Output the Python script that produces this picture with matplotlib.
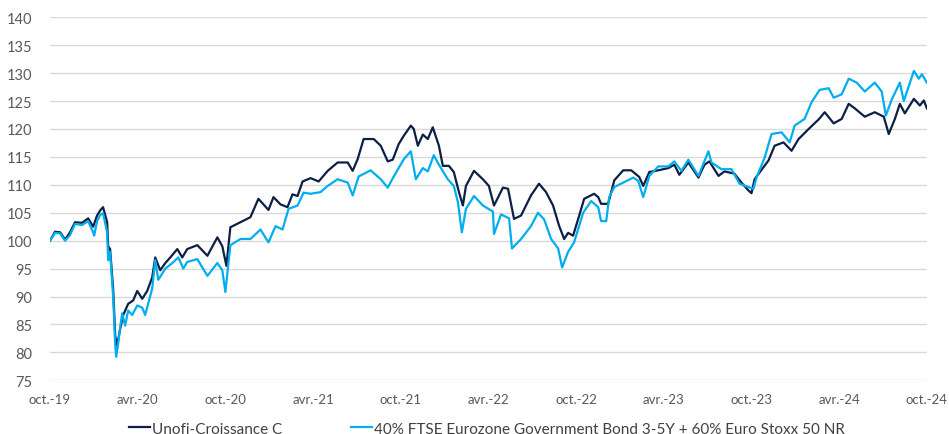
import matplotlib
matplotlib.use("Agg")
import matplotlib.pyplot as plt

# months since oct. 2019
fund_t = [0, 0.34, 0.69, 1.03, 1.37, 1.71, 2.19, 2.61, 2.95, 3.22, 3.43, 3.63, 3.91, 3.98,
          4.11, 4.32, 4.46, 4.59, 4.80, 5.01, 5.35, 5.69, 5.97, 6.31, 6.65, 6.99, 7.20, 7.54,
          7.89, 8.23, 8.71, 9.05, 9.39, 10.08, 10.77, 11.45, 11.79, 12.07, 12.34, 13.03, 13.71,
          14.26, 14.95, 15.29, 15.77, 16.25, 16.59, 16.94, 17.28, 17.83, 18.38, 19.00, 19.68,
          20.37, 20.71, 21.05, 21.46, 22.15, 22.63, 23.11, 23.45, 23.86, 24.21, 24.69, 24.89,
          25.17, 25.51, 25.85, 26.19, 26.61, 26.88, 27.29, 27.63, 27.98, 28.25, 28.46, 29.01,
          29.62, 30.03, 30.38, 30.99, 31.34, 31.75, 32.23, 32.91, 33.46, 33.94, 34.42, 34.83,
          35.18, 35.45, 35.79, 36.21, 36.55, 37.23, 37.51, 37.71, 38.19, 38.61, 39.22, 39.77,
          40.32, 40.59, 41.01, 41.62, 42.31, 42.72, 43.06, 43.68, 44.37, 44.78, 45.12, 45.74,
          46.15, 46.83, 47.31, 47.79, 48.00, 48.21, 48.69, 49.17, 49.58, 50.19, 50.74, 51.22,
          51.91, 52.59, 53.01, 53.62, 54.17, 54.65, 55.06, 55.75, 56.43, 57.05, 57.39, 57.81,
          58.15, 58.49, 59.11, 59.52, 59.79, 60.00]
fund_v = [100, 101.6, 101.5, 100.2, 101.5, 103.3, 103.2, 104, 102.5, 104.5, 105.4, 106, 103.3, 99,
          98.5, 91.4, 83, 81.2, 84.2, 86.7, 88.7, 89.3, 91, 89.6, 91, 93.4, 97, 94.7,
          96, 97, 98.5, 97, 98.5, 99.2, 97.3, 100.6, 99, 95.5, 102.4, 103.3, 104.2,
          107.5, 105.5, 107.8, 106.5, 106, 108.3, 108, 110.6, 111.2, 110.6, 112.5, 114,
          114, 112.5, 114.6, 118.2, 118.2, 117, 114.2, 114.5, 117.3, 118.8, 120.6, 120,
          117, 119, 118.2, 120.3, 117, 113.4, 113.4, 112.3, 108.7, 106.3, 109.8, 112.5,
          111, 109.8, 106.3, 109.5, 109.3, 103.9, 104.5, 108.1, 110.2, 108.7, 106.3, 102.7,
          100.3, 101.4, 100.9, 104.5, 107.5, 108.4, 107.8, 106.6, 106.6, 110.8, 112.6, 112.6,
          111.4, 109.8, 112.3, 112.6, 113, 113.6, 111.8, 114, 111.3, 113.6, 114.2, 111.6,
          112.4, 112, 110.4, 109, 108.5, 111, 112.7, 114.4, 117, 117.6, 116.1, 118.2,
          120, 121.7, 123, 121, 121.8, 124.5, 123.7, 122.2, 123, 122.2, 119.1, 121.8,
          124.5, 122.8, 125.4, 124.2, 125.1, 123.7]

bench_t = [0, 0.34, 0.69, 1.03, 1.37, 1.71, 2.19, 2.61, 2.95, 3.02, 3.22, 3.43, 3.63, 3.91,
           3.98, 4.11, 4.32, 4.46, 4.53, 4.66, 4.80, 4.94, 5.14, 5.35, 5.62, 5.97, 6.31, 6.51,
           6.99, 7.20, 7.41, 7.89, 8.37, 8.78, 9.12, 9.39, 10.08, 10.77, 11.45, 11.79, 12.00,
           12.34, 13.03, 13.71, 14.40, 14.95, 15.43, 15.91, 16.32, 16.94, 17.35, 17.83, 18.51,
           19.00, 19.68, 20.37, 20.71, 21.12, 21.94, 22.63, 23.11, 23.52, 24.21, 24.69, 25.03,
           25.51, 25.85, 26.26, 26.61, 27.22, 27.63, 27.91, 28.18, 28.46, 29.01, 29.62, 30.31,
           30.38, 30.86, 31.41, 31.61, 32.23, 32.91, 33.39, 33.81, 34.29, 34.77, 35.04, 35.45,
           35.86, 36.48, 37.03, 37.51, 37.71, 38.06, 38.26, 38.61, 39.22, 39.91, 40.25, 40.59,
           41.01, 41.62, 42.31, 42.72, 43.20, 43.68, 44.37, 45.05, 45.26, 45.94, 46.63, 47.18,
           47.79, 48.14, 48.34, 48.89, 49.37, 50.06, 50.61, 50.95, 51.63, 52.11, 52.66, 53.28,
           53.62, 54.17, 54.65, 55.20, 55.75, 56.43, 56.91, 57.19, 57.60, 58.15, 58.42, 59.11,
           59.45, 59.66, 60.00]
bench_v = [100, 101.4, 101.3, 100, 101, 103, 102.8, 103.5, 101.5, 100.9, 103.5, 104.6, 104.9, 101.5,
           96.5, 98, 90, 81.5, 79.2, 81.5, 84.5, 87, 84.8, 87.5, 86.7, 88.4, 88, 86.7,
           91.4, 96.5, 93, 95, 96, 97, 95, 96.2, 96.7, 93.7, 96, 94.7, 90.8,
           99.2, 100.3, 100.3, 102, 99.7, 102.6, 102, 105.7, 106.3, 108.6, 108.4, 108.7,
           109.8, 111, 110.4, 108.1, 111.5, 112.6, 111, 109.5, 111.5, 114.6, 116, 111,
           113, 112.4, 115.3, 113.6, 111, 109.8, 106.9, 101.5, 105.7, 108, 106.3, 105.2,
           101.2, 104.7, 104, 98.6, 100.3, 102.6, 105, 103.8, 100.3, 98.6, 95.2, 98,
           99.7, 105, 107.1, 106, 103.5, 103.5, 107.8, 109.6, 110.4, 111.3, 110.7, 107.8,
           111.6, 113.3, 113.3, 114.2, 112.5, 114.5, 111.6, 116, 114, 112.8, 112.8, 110.2,
           109.6, 109.3, 111.3, 114.8, 119.1, 119.4, 117.6, 120.6, 121.8, 124.8, 127, 127.3,
           125.6, 126.2, 129, 128.3, 126.7, 128.3, 126.7, 122.4, 125.3, 128.3, 125, 130.4,
           129, 129.8, 128.3]

tick_months = [0, 6, 12, 18, 24, 30, 36, 42, 48, 54, 60]
tick_labels = ["oct.-19", "avr.-20", "oct.-20", "avr.-21", "oct.-21", "avr.-22",
               "oct.-22", "avr.-23", "oct.-23", "avr.-24", "oct.-24"]
y_ticks = list(range(75, 141, 5))

plt.rcParams['font.family'] = ['Lato', 'DejaVu Sans']

fig = plt.figure(figsize=(9.49, 4.35), dpi=100)
ax = fig.add_axes([0.0527, 0.1234, 0.924, 0.8346])

ax.plot(fund_t, fund_v, color='#0c1f45', lw=1.6, label='Unofi-Croissance C')
ax.plot(bench_t, bench_v, color='#00aeef', lw=1.6, label='40% FTSE Eurozone Government Bond 3-5Y + 60% Euro Stoxx 50 NR')

ax.set_xlim(0, 60)
ax.set_ylim(75, 140)
ax.set_yticks(y_ticks)
ax.set_xticks(tick_months)
ax.set_xticklabels(tick_labels)
ax.grid(axis='y', color='#d9d9d9', lw=1)
ax.set_axisbelow(True)
for s in ax.spines.values():
    s.set_visible(False)
ax.tick_params(axis='y', length=0, pad=13, labelsize=10.5, labelcolor='#595959')
ax.tick_params(axis='x', length=0, pad=9, labelsize=9.5, labelcolor='#595959')

fig.legend(loc='center', bbox_to_anchor=(0.513, 0.012), ncol=2, frameon=False,
           fontsize=11, handlelength=1.4, handletextpad=0.1, columnspacing=4.5,
           labelcolor='#404040', borderaxespad=0)

fig.savefig('out.png', dpi=100)
